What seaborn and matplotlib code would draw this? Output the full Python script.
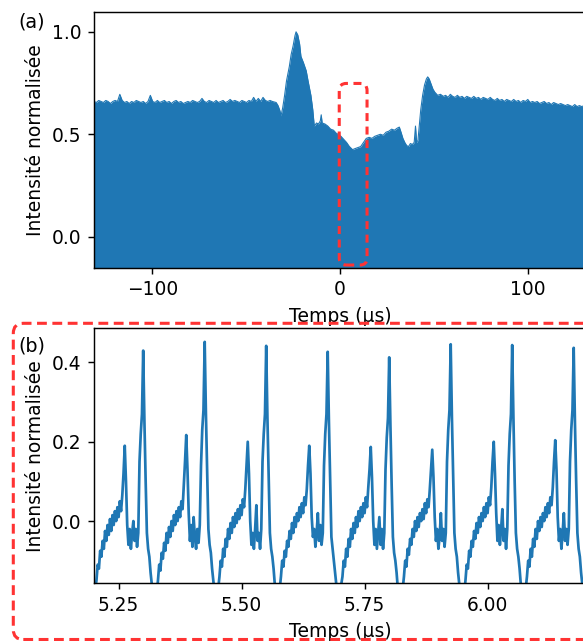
import numpy as np
import pandas as pd
import matplotlib
matplotlib.use("Agg")
import matplotlib.pyplot as plt
from matplotlib.patches import FancyBboxPatch
from matplotlib.transforms import IdentityTransform
import seaborn as sns

# ---------------- Panel (a): envelope of the normalised intensity ----------------
# flat part before the event, sampled every 1.25 us from -131 us
env_left_v = [0.66, 0.655, 0.665, 0.66, 0.655, 0.665, 0.66, 0.65, 0.66, 0.665,
              0.66, 0.695, 0.665, 0.655, 0.66, 0.65, 0.66, 0.655, 0.665, 0.66,
              0.655, 0.66, 0.65, 0.66, 0.69, 0.66, 0.655, 0.665, 0.655, 0.66,
              0.665, 0.655, 0.66, 0.65, 0.66, 0.665, 0.655, 0.66, 0.65, 0.655,
              0.66, 0.655, 0.665, 0.66, 0.655, 0.66, 0.675, 0.66, 0.655, 0.665,
              0.66, 0.655, 0.665, 0.655, 0.66, 0.665, 0.655, 0.66, 0.67, 0.66,
              0.665, 0.66, 0.655, 0.665, 0.66, 0.655, 0.665, 0.66, 0.68, 0.66,
              0.675, 0.66, 0.68, 0.665, 0.66, 0.665, 0.66]
env_left_t0, env_step = -131.0, 1.25

env_mid_t = [-34, -33, -32, -31.4, -30.5, -29.5, -28.5, -27, -26, -25, -24, -23.4,
             -22.5, -21.5, -20.8, -19.5, -18, -17, -15.5, -14.5, -13.7, -12.5,
             -11.5, -10.5, -10, -9.5, -8, -6.5, -5, -3.5, -2, -1, 0.5, 2, 3.5, 5,
             6.7, 8, 9.5, 11, 12.5, 14, 15.5, 17, 18.5, 20, 21.5, 23, 24.5, 26,
             27.5, 29, 30.5, 31.6, 32.5, 33.5, 34.5, 35.5, 36.5, 37.5, 38.5, 39.5,
             40.2, 40.8, 41.5, 42.3, 43, 44, 45, 46, 46.7, 47.5, 48.5, 49.5, 50.5,
             52, 53.5]
env_mid_v = [0.655, 0.64, 0.615, 0.59, 0.63, 0.69, 0.76, 0.83, 0.89, 0.93, 0.98, 1.0,
             0.985, 0.94, 0.88, 0.85, 0.81, 0.76, 0.69, 0.62, 0.54, 0.555,
             0.55, 0.565, 0.595, 0.555, 0.55, 0.54, 0.525, 0.52, 0.505, 0.5, 0.49, 0.475, 0.46, 0.44,
             0.425, 0.43, 0.435, 0.44, 0.46, 0.48, 0.485, 0.48, 0.49, 0.495, 0.5, 0.495, 0.51, 0.515,
             0.525, 0.52, 0.53, 0.535, 0.51, 0.48, 0.46, 0.445, 0.44, 0.455, 0.45, 0.46,
             0.54, 0.46, 0.47, 0.55, 0.62, 0.69, 0.74, 0.77, 0.78, 0.77, 0.745, 0.72, 0.705,
             0.69, 0.695]

# slow decay after the event, sampled every 1.25 us from 55 us
env_right_v = [0.685, 0.69, 0.68, 0.695, 0.685, 0.68, 0.69, 0.68, 0.685, 0.675,
               0.685, 0.68, 0.675, 0.685, 0.675, 0.68, 0.67, 0.68, 0.675, 0.67,
               0.68, 0.67, 0.665, 0.675, 0.665, 0.67, 0.66, 0.67, 0.665, 0.66,
               0.67, 0.66, 0.665, 0.655, 0.665, 0.66, 0.67, 0.655, 0.66, 0.655,
               0.66, 0.65, 0.655, 0.66, 0.65, 0.655, 0.645, 0.655, 0.65, 0.645,
               0.65, 0.645, 0.64, 0.645, 0.64, 0.635, 0.645, 0.635, 0.64, 0.635,
               0.64, 0.63, 0.635]
env_right_t0 = 55.0

# ---------------- Panel (b): zoom on the waveform (sample step 2.5 ns) ----------------
t_start, t_step = 5.2, 0.0025
lead = [-0.19, -0.17, -0.15, -0.11, -0.12, -0.075, -0.09, -0.05, -0.07, -0.025,
        -0.05, -0.01, -0.035, 0.005, -0.025, 0.015, -0.01, 0.025, 0.0, 0.035,
        0.01, 0.05, 0.025, 0.065, 0.12, 0.19, 0.10, -0.01, -0.06, -0.02,
        -0.07, -0.03, 0.0, -0.05, -0.02, -0.065, -0.03, 0.15, 0.22, 0.27]
period1 = [0.43, 0.25, 0.10, -0.03, -0.07, -0.09, -0.13, -0.16, -0.19, -0.21,
           -0.20, -0.18, -0.15, -0.11, -0.125, -0.08, -0.095, -0.055, -0.075, -0.03,
           -0.055, -0.015, -0.04, 0.0, -0.025, 0.015, -0.01, 0.025, 0.0, 0.035,
           0.01, 0.05, 0.03, 0.09, 0.15, 0.217, 0.13, 0.02, -0.05, -0.01,
           -0.065, 0.01, -0.04, -0.07, -0.02, -0.055, -0.01, 0.14, 0.23, 0.28]
period2 = [0.452, 0.27, 0.12, -0.02, -0.06, -0.08, -0.12, -0.15, -0.18, -0.20,
           -0.19, -0.17, -0.14, -0.10, -0.115, -0.07, -0.09, -0.045, -0.065, -0.02,
           -0.045, -0.005, -0.03, 0.01, -0.015, 0.02, -0.005, 0.03, 0.005, 0.04,
           0.015, 0.055, 0.035, 0.08, 0.14, 0.20, 0.12, 0.0, -0.06, -0.03,
           -0.07, -0.02, 0.04, -0.05, -0.03, -0.07, -0.02, 0.15, 0.22, 0.27]
period3 = [0.442, 0.26, 0.11, -0.03, -0.07, -0.09, -0.12, -0.16, -0.19, -0.21,
           -0.20, -0.17, -0.14, -0.10, -0.115, -0.075, -0.09, -0.05, -0.065, -0.025,
           -0.045, -0.005, -0.03, 0.01, -0.015, 0.02, 0.0, 0.035, 0.01, 0.045,
           0.02, 0.06, 0.04, 0.08, 0.14, 0.19, 0.12, 0.01, -0.04, -0.02,
           -0.065, -0.03, 0.02, -0.05, -0.01, -0.06, -0.03, 0.14, 0.22, 0.27]
period4 = [0.427, 0.25, 0.10, -0.04, -0.07, -0.10, -0.13, -0.16, -0.19, -0.21,
           -0.19, -0.16, -0.14, -0.10, -0.115, -0.07, -0.09, -0.045, -0.065, -0.02,
           -0.045, -0.005, -0.03, 0.01, -0.015, 0.025, 0.0, 0.035, 0.01, 0.045,
           0.02, 0.06, 0.035, 0.085, 0.13, 0.187, 0.11, 0.0, -0.06, -0.02,
           -0.07, -0.03, 0.01, -0.06, -0.02, -0.07, -0.03, 0.13, 0.21, 0.26]
period5 = [0.413, 0.24, 0.09, -0.04, -0.08, -0.10, -0.13, -0.17, -0.20, -0.21,
           -0.19, -0.17, -0.14, -0.10, -0.115, -0.07, -0.085, -0.045, -0.06, -0.02,
           -0.04, 0.0, -0.025, 0.01, -0.015, 0.02, 0.0, 0.03, 0.005, 0.045,
           0.02, 0.055, 0.035, 0.08, 0.13, 0.18, 0.11, 0.01, -0.05, -0.02,
           -0.07, -0.04, 0.02, -0.05, -0.02, -0.065, -0.03, 0.15, 0.23, 0.28]
period6 = [0.446, 0.26, 0.11, -0.03, -0.07, -0.09, -0.13, -0.16, -0.19, -0.21,
           -0.20, -0.18, -0.15, -0.11, -0.12, -0.075, -0.09, -0.05, -0.065, -0.025,
           -0.045, -0.005, -0.03, 0.01, -0.015, 0.02, 0.0, 0.035, 0.01, 0.045,
           0.02, 0.06, 0.04, 0.085, 0.15, 0.20, 0.12, 0.02, -0.05, -0.01,
           -0.06, -0.02, 0.03, -0.05, -0.02, -0.07, -0.02, 0.14, 0.22, 0.27]
period7 = [0.444, 0.26, 0.10, -0.03, -0.07, -0.09, -0.12, -0.16, -0.19, -0.20,
           -0.19, -0.17, -0.14, -0.10, -0.115, -0.07, -0.09, -0.045, -0.065, -0.02,
           -0.045, 0.0, -0.025, 0.01, -0.015, 0.02, 0.0, 0.035, 0.01, 0.045,
           0.02, 0.06, 0.04, 0.085, 0.15, 0.204, 0.13, 0.01, -0.05, -0.02,
           -0.07, -0.03, 0.02, -0.05, -0.02, -0.06, -0.02, 0.15, 0.23, 0.28]
tail = [0.437, 0.25, 0.10, -0.03, -0.07, -0.09, -0.13, -0.16, -0.19, -0.21, -0.20]

# ---------------- build tables ----------------
env_left_t = list(env_left_t0 + env_step * np.arange(len(env_left_v)))
env_right_t = list(env_right_t0 + env_step * np.arange(len(env_right_v)))
env_df = pd.DataFrame({"t": env_left_t + env_mid_t + env_right_t,
                       "v": env_left_v + env_mid_v + env_right_v})
wave_v = lead + period1 + period2 + period3 + period4 + period5 + period6 + period7 + tail
wave_df = pd.DataFrame({"t": t_start + t_step * np.arange(len(wave_v)), "v": wave_v})

# ---------------- figure ----------------
DPI = 130
W, H = 583, 641
plt.rcParams["font.family"] = ["DejaVu Sans"]
plt.rcParams["font.size"] = 10.3
fig = plt.figure(figsize=(W / DPI, H / DPI), dpi=DPI)
blue = "#1f77b4"
red = "#ff3333"

ax_a = fig.add_axes([94 / W, 1 - 267.7 / H, 492 / W, 256 / H])
ax_b = fig.add_axes([94 / W, 1 - 583.3 / H, 492 / W, 255.3 / H])

# panel (a)
ax_a.fill_between(env_df["t"], -0.5, env_df["v"], color=blue, lw=0)
sns.lineplot(data=env_df, x="t", y="v", ax=ax_a, color=blue, lw=0.6, estimator=None)
ax_a.set_xlim(-131, 131)
ax_a.set_ylim(-0.151, 1.098)
ax_a.set_xticks([-100, 0, 100])
ax_a.set_yticks([0.0, 0.5, 1.0])
ax_a.set_xlabel("Temps (µs)", fontsize=10.4)
ax_a.set_ylabel("Intensité normalisée", fontsize=10.4)

# panel (b)
sns.lineplot(data=wave_df, x="t", y="v", ax=ax_b, color=blue, lw=1.5, estimator=None)
ax_b.set_xlim(5.2, 6.2)
ax_b.set_ylim(-0.157, 0.487)
ax_b.set_xticks([5.25, 5.50, 5.75, 6.00])
ax_b.set_yticks([0.0, 0.2, 0.4])
ax_b.set_xlabel("Temps (µs)", fontsize=10.4)
ax_b.set_ylabel("Intensité normalisée", fontsize=10.4)

for ax in (ax_a, ax_b):
    for s in ax.spines.values():
        s.set_linewidth(0.8)

# red dashed box in panel (a)
(x0, y0) = ax_a.transData.transform((-0.4, -0.138))
(x1, y1) = ax_a.transData.transform((14.4, 0.748))
box_a = FancyBboxPatch((x0, y0), x1 - x0, y1 - y0,
                       boxstyle="round,pad=0,rounding_size=7",
                       transform=IdentityTransform(), fill=False, ec=red,
                       lw=1.7, ls=(0, (2.6, 1.8)), zorder=5)
fig.add_artist(box_a)

# big red dashed box around panel (b)
box_b = FancyBboxPatch((13.3, H - 639.5), 620 - 13.3, 639.5 - 323.3,
                       boxstyle="round,pad=0,rounding_size=10",
                       transform=IdentityTransform(), fill=False, ec=red,
                       lw=1.7, ls=(0, (3.2, 1.8)), zorder=5)
fig.add_artist(box_b)

fig.text(18 / W, 1 - 21.5 / H, "(a)", ha="left", va="center", fontsize=10.6)
fig.text(18 / W, 1 - 345.5 / H, "(b)", ha="left", va="center", fontsize=10.6)

fig.savefig("out.png", dpi=DPI)
